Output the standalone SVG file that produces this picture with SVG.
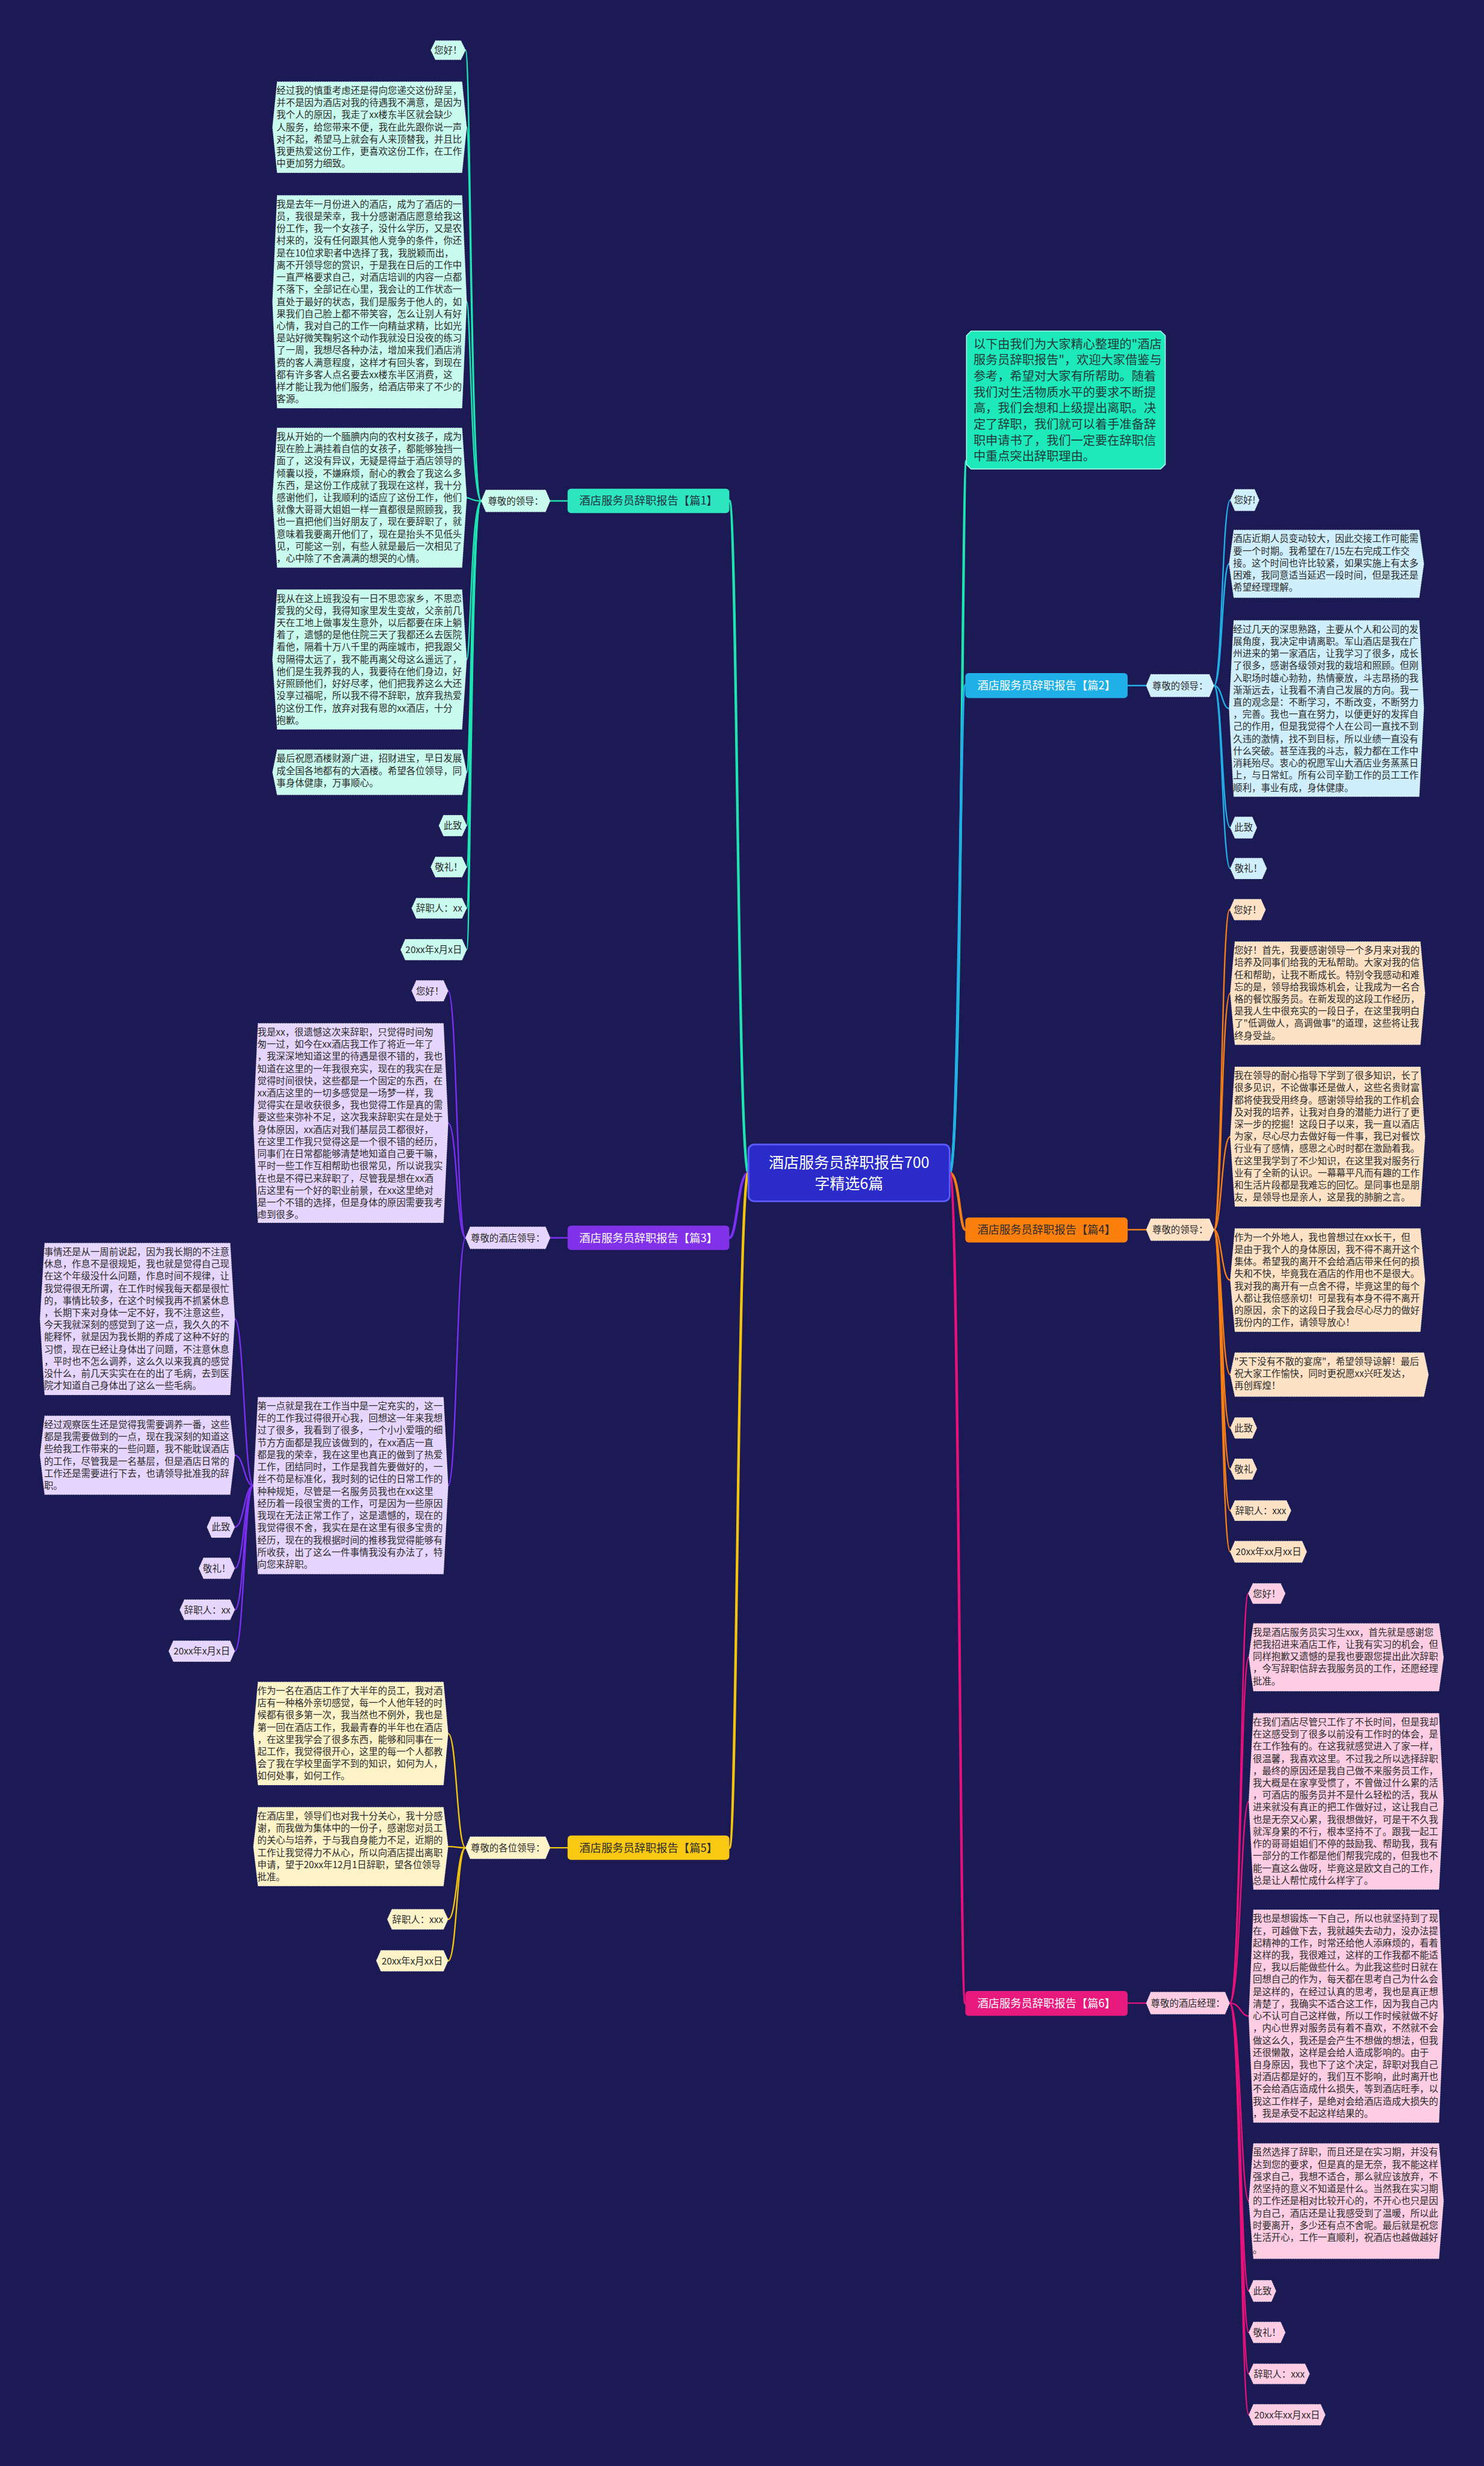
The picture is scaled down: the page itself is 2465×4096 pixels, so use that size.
<svg xmlns="http://www.w3.org/2000/svg" width="2465" height="4096" viewBox="0 0 2465 4096">
<style>
text{font-family:"Noto Sans CJK SC","Noto Sans",sans-serif;}
.bt{font-size:16px;fill:#2b2b2b;}
.sn{font-size:16px;fill:#2b2b2b;text-anchor:middle;}
.br{font-size:19px;text-anchor:middle;}
.bd{stroke:#ffffff;stroke-opacity:.55;stroke-width:1;stroke-dasharray:2 2;}
.c1{fill:#c8fbee}.c3{fill:#e6d5fc}.c5{fill:#fdf3c9}.c2{fill:#cfeffc}.c4{fill:#fde2c6}.c6{fill:#fccde3}
.l{fill:none;stroke-linecap:round}
.l1{stroke:#20e3b2}.l3{stroke:#7b2ff2}.l5{stroke:#f2c40f}.l2{stroke:#22aee6}.l4{stroke:#f57f17}.l6{stroke:#e6127a}
.m{stroke-width:4.5}.s{stroke-width:2.5}
</style>
<rect x="0" y="0" width="2465" height="4096" fill="#1b1a54"/>
<g transform="scale(0.963)">
<g id="connectors">
<path class="l l1 m" d="M1291,2023 C1272,2023 1272,864 1258,864"/>
<path class="l l3 m" d="M1291,2023 C1272,2023 1272,2135 1258,2135"/>
<path class="l l5 m" d="M1291,2023 C1272,2023 1272,3187 1258,3187"/>
<path class="l l1 m" d="M1638,2023 C1659,2023 1659,795 1667,795"/>
<path class="l l2 m" d="M1638,2023 C1655,2023 1655,1182 1665,1182"/>
<path class="l l4 m" d="M1638,2023 C1655,2023 1655,2121 1665,2121"/>
<path class="l l6 m" d="M1638,2023 C1655,2023 1655,3455 1665,3455"/>
<path class="l l1 s" d="M979,864 L949,864"/>
<path class="l l3 s" d="M979,2135 L949,2135"/>
<path class="l l5 s" d="M979,3187 L949,3187"/>
<path class="l l2 s" d="M1945,1182.5 L1977,1182.5"/>
<path class="l l4 s" d="M1945,2121 L1977,2121"/>
<path class="l l6 s" d="M1945,3455 L1977,3455"/>
<g class="l l1 s">
<path d="M830,864 C812,864 812,86.5 803,86.5"/>
<path d="M830,864 C812,864 812,219.5 805,219.5"/>
<path d="M830,864 C812,864 812,520.5 805,520.5"/>
<path d="M830,864 C812,864 812,858.5 805,858.5"/>
<path d="M830,864 C812,864 812,1137.5 805,1137.5"/>
<path d="M830,864 C812,864 812,1332 805,1332"/>
<path d="M830,864 C812,864 812,1424 805,1424"/>
<path d="M830,864 C812,864 812,1495.5 805,1495.5"/>
<path d="M830,864 C812,864 812,1566.5 805,1566.5"/>
<path d="M830,864 C812,864 812,1638 805,1638"/>
</g>
<g class="l l3 s">
<path d="M803,2135 C788,2135 788,1709 773,1709"/>
<path d="M803,2135 C788,2135 788,1937 773,1937"/>
<path d="M803,2135 C788,2135 788,2562.5 773,2562.5"/>
<path d="M437,2562.5 C421,2562.5 421,2275 405,2275"/>
<path d="M437,2562.5 C421,2562.5 421,2510 405,2510"/>
<path d="M437,2562.5 C421,2562.5 421,2634 405,2634"/>
<path d="M437,2562.5 C421,2562.5 421,2705 405,2705"/>
<path d="M437,2562.5 C421,2562.5 421,2776.5 405,2776.5"/>
<path d="M437,2562.5 C421,2562.5 421,2848 405,2848"/>
</g>
<g class="l l5 s">
<path d="M803,3187 C788,3187 788,2990 773,2990"/>
<path d="M803,3187 C788,3187 788,3185 773,3185"/>
<path d="M803,3187 C788,3187 788,3310.5 773,3310.5"/>
<path d="M803,3187 C788,3187 788,3382 773,3382"/>
</g>
<g class="l l2 s">
<path d="M2094,1182.5 C2108,1182.5 2108,862.5 2122,862.5"/>
<path d="M2094,1182.5 C2108,1182.5 2108,972.5 2120,972.5"/>
<path d="M2094,1182.5 C2108,1182.5 2108,1222 2120,1222"/>
<path d="M2094,1182.5 C2108,1182.5 2108,1427.5 2122,1427.5"/>
<path d="M2094,1182.5 C2108,1182.5 2108,1498 2122,1498"/>
</g>
<g class="l l4 s">
<path d="M2094,2121 C2107,2121 2107,1569 2121,1569"/>
<path d="M2094,2121 C2107,2121 2107,1713 2122,1713"/>
<path d="M2094,2121 C2107,2121 2107,1960.5 2122,1960.5"/>
<path d="M2094,2121 C2107,2121 2107,2208 2122,2208"/>
<path d="M2094,2121 C2107,2121 2107,2371 2122,2371"/>
<path d="M2094,2121 C2107,2121 2107,2463 2122,2463"/>
<path d="M2094,2121 C2107,2121 2107,2534 2122,2534"/>
<path d="M2094,2121 C2107,2121 2107,2605.5 2122,2605.5"/>
<path d="M2094,2121 C2107,2121 2107,2676.5 2122,2676.5"/>
</g>
<g class="l l6 s">
<path d="M2121,3455 C2140,3455 2140,2748.5 2153,2748.5"/>
<path d="M2121,3455 C2140,3455 2140,2858.5 2154,2858.5"/>
<path d="M2121,3455 C2140,3455 2140,3107 2154,3107"/>
<path d="M2121,3455 C2140,3455 2140,3477.5 2154,3477.5"/>
<path d="M2121,3455 C2140,3455 2140,3796.5 2154,3796.5"/>
<path d="M2121,3455 C2140,3455 2140,3951.5 2154,3951.5"/>
<path d="M2121,3455 C2140,3455 2140,4023 2154,4023"/>
<path d="M2121,3455 C2140,3455 2140,4094.5 2154,4094.5"/>
<path d="M2121,3455 C2140,3455 2140,4165 2154,4165"/>
</g>
</g>

<g id="center">
<rect x="1291" y="1974" width="347" height="98" rx="10" fill="#2b2bc9" stroke="#5a5aff" stroke-width="3"/>
<text x="1464.5" y="2015" font-size="26" fill="#ffffff" text-anchor="middle">酒店服务员辞职报告700</text>
<text x="1464.5" y="2051" font-size="26" fill="#ffffff" text-anchor="middle">字精选6篇</text>
</g>

<g id="intro">
<polygon points="1675,571 2002,571 2010,579 2010,801 2002,809 1675,809 1667,801 1667,579" fill="#1ee9bb" stroke="#b8fff0" stroke-width="1.5"/>
<text font-size="21" fill="#1f3b3a">
<tspan x="1679" y="601">以下由我们为大家精心整理的"酒店</tspan>
<tspan x="1679" dy="27.7">服务员辞职报告"，欢迎大家借鉴与</tspan>
<tspan x="1679" dy="27.7">参考，希望对大家有所帮助。随着</tspan>
<tspan x="1679" dy="27.7">我们对生活物质水平的要求不断提</tspan>
<tspan x="1679" dy="27.7">高，我们会想和上级提出离职。决</tspan>
<tspan x="1679" dy="27.7">定了辞职，我们就可以着手准备辞</tspan>
<tspan x="1679" dy="27.7">职申请书了，我们一定要在辞职信</tspan>
<tspan x="1679" dy="27.7">中重点突出辞职理由。</tspan>
</text>
</g>

<!-- Branch 1 -->
<g id="b1">
<rect x="979" y="843" width="279" height="42" rx="6" fill="#2de6bf"/>
<text class="br" x="1118.5" y="870.5" fill="#1d2f40">酒店服务员辞职报告【篇1】</text>
</g>
<g id="b1-label">
<polygon class="c1 bd" points="838,845 941,845 949,864 941,883 838,883 830,864"/>
<text class="sn" x="889.5" y="870">尊敬的领导：</text>
</g>
<g id="b1-n1"><polygon class="c1 bd" points="751,70 795,70 803,86.5 795,103 751,103 743,86.5"/><text class="sn" x="773" y="92.5">您好！</text></g>
<g id="b1-n2"><polygon class="c1 bd" points="478,141 797,141 805,219.5 797,298 478,298 470,219.5"/>
<text class="bt" y="162">
<tspan x="477">经过我的慎重考虑还是得向您递交这份辞呈，</tspan>
<tspan x="477" dy="21">并不是因为酒店对我的待遇我不满意，是因为</tspan>
<tspan x="477" dy="21">我个人的原因，我走了xx楼东半区就会缺少</tspan>
<tspan x="477" dy="21">人服务，给您带来不便，我在此先跟你说一声</tspan>
<tspan x="477" dy="21">对不起，希望马上就会有人来顶替我，并且比</tspan>
<tspan x="477" dy="21">我更热爱这份工作，更喜欢这份工作，在工作</tspan>
<tspan x="477" dy="21">中更加努力细致。</tspan>
</text></g>
<g id="b1-n3"><polygon class="c1 bd" points="478,337 797,337 805,520.5 797,704 478,704 470,520.5"/>
<text class="bt" y="358">
<tspan x="477">我是去年一月份进入的酒店，成为了酒店的一</tspan>
<tspan x="477" dy="21">员，我很是荣幸，我十分感谢酒店愿意给我这</tspan>
<tspan x="477" dy="21">份工作，我一个女孩子，没什么学历，又是农</tspan>
<tspan x="477" dy="21">村来的，没有任何跟其他人竞争的条件，你还</tspan>
<tspan x="477" dy="21">是在10位求职者中选择了我，我脱颖而出，</tspan>
<tspan x="477" dy="21">离不开领导您的赏识，于是我在日后的工作中</tspan>
<tspan x="477" dy="21">一直严格要求自己，对酒店培训的内容一点都</tspan>
<tspan x="477" dy="21">不落下，全部记在心里，我会让的工作状态一</tspan>
<tspan x="477" dy="21">直处于最好的状态，我们是服务于他人的，如</tspan>
<tspan x="477" dy="21">果我们自己脸上都不带笑容，怎么让别人有好</tspan>
<tspan x="477" dy="21">心情，我对自己的工作一向精益求精，比如光</tspan>
<tspan x="477" dy="21">是站好微笑鞠躬这个动作我就没日没夜的练习</tspan>
<tspan x="477" dy="21">了一周，我想尽各种办法，增加来我们酒店消</tspan>
<tspan x="477" dy="21">费的客人满意程度，这样才有回头客，到现在</tspan>
<tspan x="477" dy="21">都有许多客人点名要去xx楼东半区消费，这</tspan>
<tspan x="477" dy="21">样才能让我为他们服务，给酒店带来了不少的</tspan>
<tspan x="477" dy="21">客源。</tspan>
</text></g>
<g id="b1-n4"><polygon class="c1 bd" points="478,738 797,738 805,858.5 797,979 478,979 470,858.5"/>
<text class="bt" y="759">
<tspan x="477">我从开始的一个腼腆内向的农村女孩子，成为</tspan>
<tspan x="477" dy="21">现在脸上满挂着自信的女孩子，都能够独挡一</tspan>
<tspan x="477" dy="21">面了，这没有异议，无疑是得益于酒店领导的</tspan>
<tspan x="477" dy="21">倾囊以授，不嫌麻烦，耐心的教会了我这么多</tspan>
<tspan x="477" dy="21">东西，是这份工作成就了我现在这样，我十分</tspan>
<tspan x="477" dy="21">感谢他们，让我顺利的适应了这份工作，他们</tspan>
<tspan x="477" dy="21">就像大哥哥大姐姐一样一直都很是照顾我，我</tspan>
<tspan x="477" dy="21">也一直把他们当好朋友了，现在要辞职了，就</tspan>
<tspan x="477" dy="21">意味着我要离开他们了，现在是抬头不见低头</tspan>
<tspan x="477" dy="21">见，可能这一别，有些人就是最后一次相见了</tspan>
<tspan x="477" dy="21">，心中除了不舍满满的想哭的心情。</tspan>
</text></g>
<g id="b1-n5"><polygon class="c1 bd" points="478,1017 797,1017 805,1137.5 797,1258 478,1258 470,1137.5"/>
<text class="bt" y="1038">
<tspan x="477">我从在这上班我没有一日不思恋家乡，不思恋</tspan>
<tspan x="477" dy="21">爱我的父母，我得知家里发生变故，父亲前几</tspan>
<tspan x="477" dy="21">天在工地上做事发生意外，以后都要在床上躺</tspan>
<tspan x="477" dy="21">着了，遗憾的是他住院三天了我都还么去医院</tspan>
<tspan x="477" dy="21">看他，隔着十万八千里的两座城市，把我跟父</tspan>
<tspan x="477" dy="21">母隔得太远了，我不能再离父母这么遥远了，</tspan>
<tspan x="477" dy="21">他们是生我养我的人，我要待在他们身边，好</tspan>
<tspan x="477" dy="21">好照顾他们，好好尽孝，他们把我养这么大还</tspan>
<tspan x="477" dy="21">没享过福呢，所以我不得不辞职，放弃我热爱</tspan>
<tspan x="477" dy="21">的这份工作，放弃对我有恩的xx酒店，十分</tspan>
<tspan x="477" dy="21">抱歉。</tspan>
</text></g>
<g id="b1-n6"><polygon class="c1 bd" points="478,1293 797,1293 805,1332 797,1371 478,1371 470,1332"/>
<text class="bt" y="1314">
<tspan x="477">最后祝愿酒楼财源广进，招财进宝，早日发展</tspan>
<tspan x="477" dy="21">成全国各地都有的大酒楼。希望各位领导，同</tspan>
<tspan x="477" dy="21">事身体健康，万事顺心。</tspan>
</text></g>
<g id="b1-n7"><polygon class="c1 bd" points="765,1406 797,1406 805,1424 797,1442 765,1442 757,1424"/><text class="sn" x="781" y="1430">此致</text></g>
<g id="b1-n8"><polygon class="c1 bd" points="751,1478 797,1478 805,1495.5 797,1513 751,1513 743,1495.5"/><text class="sn" x="774" y="1501.5">敬礼！</text></g>
<g id="b1-n9"><polygon class="c1 bd" points="718,1549 797,1549 805,1566.5 797,1584 718,1584 710,1566.5"/><text class="sn" x="757.5" y="1572.5">辞职人：xx</text></g>
<g id="b1-n10"><polygon class="c1 bd" points="699,1620 797,1620 805,1638 797,1656 699,1656 691,1638"/><text class="sn" x="748" y="1644">20xx年x月x日</text></g>

<!-- Branch 3 -->
<g id="b3">
<rect x="979" y="2114" width="279" height="42" rx="6" fill="#8132e8"/>
<text class="br" x="1118.5" y="2142" fill="#ffffff">酒店服务员辞职报告【篇3】</text>
</g>
<g id="b3-label"><polygon class="c3 bd" points="811,2116 941,2116 949,2135 941,2154 811,2154 803,2135"/><text class="sn" x="876" y="2141">尊敬的酒店领导：</text></g>
<g id="b3-n1"><polygon class="c3 bd" points="718,1691 765,1691 773,1709 765,1727 718,1727 710,1709"/><text class="sn" x="741.5" y="1715">您好！</text></g>
<g id="b3-n2"><polygon class="c3 bd" points="445,1765 765,1765 773,1937 765,2109 445,2109 437,1937"/>
<text class="bt" y="1786">
<tspan x="444">我是xx，很遗憾这次来辞职，只觉得时间匆</tspan>
<tspan x="444" dy="21">匆一过，如今在xx酒店我工作了将近一年了</tspan>
<tspan x="444" dy="21">，我深深地知道这里的待遇是很不错的，我也</tspan>
<tspan x="444" dy="21">知道在这里的一年我很充实，现在的我实在是</tspan>
<tspan x="444" dy="21">觉得时间很快，这些都是一个固定的东西，在</tspan>
<tspan x="444" dy="21">xx酒店这里的一切多感觉是一场梦一样，我</tspan>
<tspan x="444" dy="21">觉得实在是收获很多，我也觉得工作是真的需</tspan>
<tspan x="444" dy="21">要这些来弥补不足，这次我来辞职实在是处于</tspan>
<tspan x="444" dy="21">身体原因，xx酒店对我们基层员工都很好，</tspan>
<tspan x="444" dy="21">在这里工作我只觉得这是一个很不错的经历，</tspan>
<tspan x="444" dy="21">同事们在日常都能够清楚地知道自己要干嘛，</tspan>
<tspan x="444" dy="21">平时一些工作互相帮助也很常见，所以说我实</tspan>
<tspan x="444" dy="21">在也是不得已来辞职了，尽管我是想在xx酒</tspan>
<tspan x="444" dy="21">店这里有一个好的职业前景，在xx这里绝对</tspan>
<tspan x="444" dy="21">是一个不错的选择，但是身体的原因需要我考</tspan>
<tspan x="444" dy="21">虑到很多。</tspan>
</text></g>
<g id="b3-n3"><polygon class="c3 bd" points="445,2410 765,2410 773,2562.5 765,2715 445,2715 437,2562.5"/>
<text class="bt" y="2431">
<tspan x="444">第一点就是我在工作当中是一定充实的，这一</tspan>
<tspan x="444" dy="21">年的工作我过得很开心我，回想这一年来我想</tspan>
<tspan x="444" dy="21">过了很多，我看到了很多，一个小小爱哦的细</tspan>
<tspan x="444" dy="21">节方方面都是我应该做到的，在xx酒店一直</tspan>
<tspan x="444" dy="21">都是我的荣幸，我在这里也真正的做到了热爱</tspan>
<tspan x="444" dy="21">工作，团结同时，工作是我首先要做好的，一</tspan>
<tspan x="444" dy="21">丝不苟是标准化，我时刻的记住的日常工作的</tspan>
<tspan x="444" dy="21">种种规矩，尽管是一名服务员我也在xx这里</tspan>
<tspan x="444" dy="21">经历着一段很宝贵的工作，可是因为一些原因</tspan>
<tspan x="444" dy="21">我现在无法正常工作了，这是遗憾的，现在的</tspan>
<tspan x="444" dy="21">我觉得很不舍，我实在是在这里有很多宝贵的</tspan>
<tspan x="444" dy="21">经历，现在的我根据时间的推移我觉得能够有</tspan>
<tspan x="444" dy="21">所收获，出了这么一件事情我没有办法了，特</tspan>
<tspan x="444" dy="21">向您来辞职。</tspan>
</text></g>
<g id="b3-n4"><polygon class="c3 bd" points="77,2144 397,2144 405,2275 397,2406 77,2406 69,2275"/>
<text class="bt" y="2165">
<tspan x="76">事情还是从一周前说起，因为我长期的不注意</tspan>
<tspan x="76" dy="21">休息，作息不是很规矩，我也就是觉得自己现</tspan>
<tspan x="76" dy="21">在这个年级没什么问题，作息时间不规律，让</tspan>
<tspan x="76" dy="21">我觉得很无所谓，在工作时候我每天都是很忙</tspan>
<tspan x="76" dy="21">的，事情比较多，在这个时候我再不抓紧休息</tspan>
<tspan x="76" dy="21">，长期下来对身体一定不好，我不注意这些，</tspan>
<tspan x="76" dy="21">今天我就深刻的感觉到了这一点，我久久的不</tspan>
<tspan x="76" dy="21">能释怀，就是因为我长期的养成了这种不好的</tspan>
<tspan x="76" dy="21">习惯，现在已经让身体出了问题，不注意休息</tspan>
<tspan x="76" dy="21">，平时也不怎么调养，这么久以来我真的感觉</tspan>
<tspan x="76" dy="21">没什么，前几天实实在在的出了毛病，去到医</tspan>
<tspan x="76" dy="21">院才知道自己身体出了这么一些毛病。</tspan>
</text></g>
<g id="b3-n5"><polygon class="c3 bd" points="77,2442 397,2442 405,2510 397,2578 77,2578 69,2510"/>
<text class="bt" y="2463">
<tspan x="76">经过观察医生还是觉得我需要调养一番，这些</tspan>
<tspan x="76" dy="21">都是我需要做到的一点，现在我深刻的知道这</tspan>
<tspan x="76" dy="21">些给我工作带来的一些问题，我不能耽误酒店</tspan>
<tspan x="76" dy="21">的工作，尽管我是一名基层，但是酒店日常的</tspan>
<tspan x="76" dy="21">工作还是需要进行下去，也请领导批准我的辞</tspan>
<tspan x="76" dy="21">职。</tspan>
</text></g>
<g id="b3-n6"><polygon class="c3 bd" points="365,2616 397,2616 405,2634 397,2652 365,2652 357,2634"/><text class="sn" x="381" y="2640">此致</text></g>
<g id="b3-n7"><polygon class="c3 bd" points="351,2687 397,2687 405,2705 397,2723 351,2723 343,2705"/><text class="sn" x="374" y="2711">敬礼！</text></g>
<g id="b3-n8"><polygon class="c3 bd" points="318,2759 397,2759 405,2776.5 397,2794 318,2794 310,2776.5"/><text class="sn" x="357.5" y="2782.5">辞职人：xx</text></g>
<g id="b3-n9"><polygon class="c3 bd" points="299,2830 397,2830 405,2848 397,2866 299,2866 291,2848"/><text class="sn" x="348" y="2854">20xx年x月x日</text></g>

<!-- Branch 5 -->
<g id="b5">
<rect x="979" y="3166" width="279" height="42" rx="6" fill="#f9c812"/>
<text class="br" x="1118.5" y="3194" fill="#2b2b2b">酒店服务员辞职报告【篇5】</text>
</g>
<g id="b5-label"><polygon class="c5 bd" points="811,3168 941,3168 949,3187 941,3206 811,3206 803,3187"/><text class="sn" x="876" y="3193">尊敬的各位领导：</text></g>
<g id="b5-n1"><polygon class="c5 bd" points="445,2901 765,2901 773,2990 765,3079 445,3079 437,2990"/>
<text class="bt" y="2922">
<tspan x="444">作为一名在酒店工作了大半年的员工，我对酒</tspan>
<tspan x="444" dy="21">店有一种格外亲切感觉，每一个人他年轻的时</tspan>
<tspan x="444" dy="21">候都有很多第一次，我当然也不例外，我也是</tspan>
<tspan x="444" dy="21">第一回在酒店工作，我最青春的半年也在酒店</tspan>
<tspan x="444" dy="21">，在这里我学会了很多东西，能够和同事在一</tspan>
<tspan x="444" dy="21">起工作，我觉得很开心，这里的每一个人都教</tspan>
<tspan x="444" dy="21">会了我在学校里面学不到的知识，如何为人，</tspan>
<tspan x="444" dy="21">如何处事，如何工作。</tspan>
</text></g>
<g id="b5-n2"><polygon class="c5 bd" points="445,3117 765,3117 773,3185 765,3253 445,3253 437,3185"/>
<text class="bt" y="3138">
<tspan x="444">在酒店里，领导们也对我十分关心，我十分感</tspan>
<tspan x="444" dy="21">谢，而我做为集体中的一份子，感谢您对员工</tspan>
<tspan x="444" dy="21">的关心与培养，于与我自身能力不足，近期的</tspan>
<tspan x="444" dy="21">工作让我觉得力不从心，所以向酒店提出离职</tspan>
<tspan x="444" dy="21">申请，望于20xx年12月1日辞职，望各位领导</tspan>
<tspan x="444" dy="21">批准。</tspan>
</text></g>
<g id="b5-n3"><polygon class="c5 bd" points="676,3293 765,3293 773,3310.5 765,3328 676,3328 668,3310.5"/><text class="sn" x="720.5" y="3316.5">辞职人：xxx</text></g>
<g id="b5-n4"><polygon class="c5 bd" points="657,3364 765,3364 773,3382 765,3400 657,3400 649,3382"/><text class="sn" x="711" y="3388">20xx年x月xx日</text></g>

<!-- Branch 2 -->
<g id="b2">
<rect x="1665" y="1161" width="280" height="43" rx="6" fill="#1fb0e8"/>
<text class="br" x="1805" y="1189" fill="#ffffff">酒店服务员辞职报告【篇2】</text>
</g>
<g id="b2-label"><polygon class="c2 bd" points="1985,1163 2086,1163 2094,1182.5 2086,1202 1985,1202 1977,1182.5"/><text class="sn" x="2035.5" y="1188.5">尊敬的领导：</text></g>
<g id="b2-n1"><polygon class="c2 bd" points="2130,844 2164,844 2172,862.5 2164,881 2130,881 2122,862.5"/><text class="sn" x="2147" y="868.5">您好!</text></g>
<g id="b2-n2"><polygon class="c2 bd" points="2128,914 2448,914 2456,972.5 2448,1031 2128,1031 2120,972.5"/>
<text class="bt" y="935">
<tspan x="2127">酒店近期人员变动较大，因此交接工作可能需</tspan>
<tspan x="2127" dy="21">要一个时期。我希望在7/15左右完成工作交</tspan>
<tspan x="2127" dy="21">接。这个时间也许比较紧，如果实施上有太多</tspan>
<tspan x="2127" dy="21">困难，我同意适当延迟一段时间，但是我还是</tspan>
<tspan x="2127" dy="21">希望经理理解。</tspan>
</text></g>
<g id="b2-n3"><polygon class="c2 bd" points="2128,1070 2448,1070 2456,1222 2448,1374 2128,1374 2120,1222"/>
<text class="bt" y="1091">
<tspan x="2127">经过几天的深思熟路，主要从个人和公司的发</tspan>
<tspan x="2127" dy="21">展角度，我决定申请离职。军山酒店是我在广</tspan>
<tspan x="2127" dy="21">州进来的第一家酒店，让我学习了很多，成长</tspan>
<tspan x="2127" dy="21">了很多，感谢各级领对我的栽培和照顾。但刚</tspan>
<tspan x="2127" dy="21">入职场时雄心勃勃，热情豪放，斗志昂扬的我</tspan>
<tspan x="2127" dy="21">渐渐远去，让我看不清自己发展的方向。我一</tspan>
<tspan x="2127" dy="21">直的观念是：不断学习，不断改变，不断努力</tspan>
<tspan x="2127" dy="21">，完善。我也一直在努力，以便更好的发挥自</tspan>
<tspan x="2127" dy="21">己的作用，但是我觉得个人在公司一直找不到</tspan>
<tspan x="2127" dy="21">久违的激情，找不到目标，所以业绩一直没有</tspan>
<tspan x="2127" dy="21">什么突破。甚至连我的斗志，毅力都在工作中</tspan>
<tspan x="2127" dy="21">消耗殆尽。衷心的祝愿军山大酒店业务蒸蒸日</tspan>
<tspan x="2127" dy="21">上，与日常虹。所有公司辛勤工作的员工工作</tspan>
<tspan x="2127" dy="21">顺利，事业有成，身体健康。</tspan>
</text></g>
<g id="b2-n4"><polygon class="c2 bd" points="2130,1409 2160,1409 2168,1427.5 2160,1446 2130,1446 2122,1427.5"/><text class="sn" x="2145" y="1433.5">此致</text></g>
<g id="b2-n5"><polygon class="c2 bd" points="2130,1480 2177,1480 2185,1498 2177,1516 2130,1516 2122,1498"/><text class="sn" x="2153.5" y="1504">敬礼！</text></g>

<!-- Branch 4 -->
<g id="b4">
<rect x="1665" y="2100" width="280" height="43" rx="6" fill="#fb7f0c"/>
<text class="br" x="1805" y="2128" fill="#2b2b2b">酒店服务员辞职报告【篇4】</text>
</g>
<g id="b4-label"><polygon class="c4 bd" points="1985,2102 2086,2102 2094,2121 2086,2140 1985,2140 1977,2121"/><text class="sn" x="2035.5" y="2127">尊敬的领导：</text></g>
<g id="b4-n1"><polygon class="c4 bd" points="2129,1551 2175,1551 2183,1569 2175,1587 2129,1587 2121,1569"/><text class="sn" x="2152" y="1575">您好！</text></g>
<g id="b4-n2"><polygon class="c4 bd" points="2130,1624 2450,1624 2458,1713 2450,1802 2130,1802 2122,1713"/>
<text class="bt" y="1645">
<tspan x="2129">您好！首先，我要感谢领导一个多月来对我的</tspan>
<tspan x="2129" dy="21">培养及同事们给我的无私帮助。大家对我的信</tspan>
<tspan x="2129" dy="21">任和帮助，让我不断成长。特别令我感动和难</tspan>
<tspan x="2129" dy="21">忘的是，领导给我锻炼机会，让我成为一名合</tspan>
<tspan x="2129" dy="21">格的餐饮服务员。在新发现的这段工作经历，</tspan>
<tspan x="2129" dy="21">是我人生中很充实的一段日子，在这里我明白</tspan>
<tspan x="2129" dy="21">了"低调做人，高调做事"的道理，这些将让我</tspan>
<tspan x="2129" dy="21">终身受益。</tspan>
</text></g>
<g id="b4-n3"><polygon class="c4 bd" points="2130,1840 2450,1840 2458,1960.5 2450,2081 2130,2081 2122,1960.5"/>
<text class="bt" y="1861">
<tspan x="2129">我在领导的耐心指导下学到了很多知识，长了</tspan>
<tspan x="2129" dy="21">很多见识，不论做事还是做人，这些名贵财富</tspan>
<tspan x="2129" dy="21">都将使我受用终身。感谢领导给我的工作机会</tspan>
<tspan x="2129" dy="21">及对我的培养，让我对自身的潜能力进行了更</tspan>
<tspan x="2129" dy="21">深一步的挖掘！这段日子以来，我一直以酒店</tspan>
<tspan x="2129" dy="21">为家，尽心尽力去做好每一件事，我已对餐饮</tspan>
<tspan x="2129" dy="21">行业有了感情，感恩之心时时都在激励着我。</tspan>
<tspan x="2129" dy="21">在这里我学到了不少知识，在这里我对服务行</tspan>
<tspan x="2129" dy="21">业有了全新的认识。一幕幕平凡而有趣的工作</tspan>
<tspan x="2129" dy="21">和生活片段都是我难忘的回忆。是同事也是朋</tspan>
<tspan x="2129" dy="21">友，是领导也是亲人，这是我的肺腑之言。</tspan>
</text></g>
<g id="b4-n4"><polygon class="c4 bd" points="2130,2119 2450,2119 2458,2208 2450,2297 2130,2297 2122,2208"/>
<text class="bt" y="2140">
<tspan x="2129">作为一个外地人，我也曾想过在xx长干，但</tspan>
<tspan x="2129" dy="21">是由于我个人的身体原因，我不得不离开这个</tspan>
<tspan x="2129" dy="21">集体。希望我的离开不会给酒店带来任何的损</tspan>
<tspan x="2129" dy="21">失和不快，毕竟我在酒店的作用也不是很大。</tspan>
<tspan x="2129" dy="21">我对我的离开有一点舍不得，毕竟这里的每个</tspan>
<tspan x="2129" dy="21">人都让我倍感亲切！可是我有本身不得不离开</tspan>
<tspan x="2129" dy="21">的原因，余下的这段日子我会尽心尽力的做好</tspan>
<tspan x="2129" dy="21">我份内的工作，请领导放心！</tspan>
</text></g>
<g id="b4-n5"><polygon class="c4 bd" points="2130,2333 2456,2333 2464,2371 2456,2409 2130,2409 2122,2371"/>
<text class="bt" y="2354">
<tspan x="2129">"天下没有不散的宴席"，希望领导谅解！最后</tspan>
<tspan x="2129" dy="21">祝大家工作愉快，同时更祝愿xx兴旺发达，</tspan>
<tspan x="2129" dy="21">再创辉煌！</tspan>
</text></g>
<g id="b4-n6"><polygon class="c4 bd" points="2130,2445 2160,2445 2168,2463 2160,2481 2130,2481 2122,2463"/><text class="sn" x="2145" y="2469">此致</text></g>
<g id="b4-n7"><polygon class="c4 bd" points="2130,2516 2160,2516 2168,2534 2160,2552 2130,2552 2122,2534"/><text class="sn" x="2145" y="2540">敬礼</text></g>
<g id="b4-n8"><polygon class="c4 bd" points="2130,2588 2219,2588 2227,2605.5 2219,2623 2130,2623 2122,2605.5"/><text class="sn" x="2174.5" y="2611.5">辞职人：xxx</text></g>
<g id="b4-n9"><polygon class="c4 bd" points="2130,2658 2246,2658 2254,2676.5 2246,2695 2130,2695 2122,2676.5"/><text class="sn" x="2188" y="2682.5">20xx年xx月xx日</text></g>

<!-- Branch 6 -->
<g id="b6">
<rect x="1665" y="3434" width="280" height="43" rx="6" fill="#e8197d"/>
<text class="br" x="1805" y="3462" fill="#ffffff">酒店服务员辞职报告【篇6】</text>
</g>
<g id="b6-label"><polygon class="c6 bd" points="1985,3436 2113,3436 2121,3455 2113,3474 1985,3474 1977,3455"/><text class="sn" x="2049" y="3461">尊敬的酒店经理：</text></g>
<g id="b6-n1"><polygon class="c6 bd" points="2161,2731 2209,2731 2217,2748.5 2209,2766 2161,2766 2153,2748.5"/><text class="sn" x="2185" y="2754.5">您好！</text></g>
<g id="b6-n2"><polygon class="c6 bd" points="2162,2800 2482,2800 2490,2858.5 2482,2917 2162,2917 2154,2858.5"/>
<text class="bt" y="2821">
<tspan x="2161">我是酒店服务员实习生xxx，首先就是感谢您</tspan>
<tspan x="2161" dy="21">把我招进来酒店工作，让我有实习的机会，但</tspan>
<tspan x="2161" dy="21">同样抱歉又遗憾的是我也要跟您提出此次辞职</tspan>
<tspan x="2161" dy="21">，今写辞职信辞去我服务员的工作，还愿经理</tspan>
<tspan x="2161" dy="21">批准。</tspan>
</text></g>
<g id="b6-n3"><polygon class="c6 bd" points="2162,2955 2482,2955 2490,3107 2482,3259 2162,3259 2154,3107"/>
<text class="bt" y="2976">
<tspan x="2161">在我们酒店尽管只工作了不长时间，但是我却</tspan>
<tspan x="2161" dy="21">在这感受到了很多以前没有工作时的体会，是</tspan>
<tspan x="2161" dy="21">在工作独有的。在这我就感觉进入了家一样，</tspan>
<tspan x="2161" dy="21">很温馨，我喜欢这里。不过我之所以选择辞职</tspan>
<tspan x="2161" dy="21">，最终的原因还是我自己做不来服务员工作，</tspan>
<tspan x="2161" dy="21">我大概是在家享受惯了，不曾做过什么累的活</tspan>
<tspan x="2161" dy="21">，可酒店的服务员并不是什么轻松的活，我从</tspan>
<tspan x="2161" dy="21">进来就没有真正的把工作做好过，这让我自己</tspan>
<tspan x="2161" dy="21">也是无奈又心累，我很想做好，可是干不久我</tspan>
<tspan x="2161" dy="21">就浑身累的不行，根本坚持不了。跟我一起工</tspan>
<tspan x="2161" dy="21">作的哥哥姐姐们不停的鼓励我、帮助我，我有</tspan>
<tspan x="2161" dy="21">一部分的工作都是他们帮我完成的，但我也不</tspan>
<tspan x="2161" dy="21">能一直这么做呀，毕竟这是欧文自己的工作，</tspan>
<tspan x="2161" dy="21">总是让人帮忙成什么样字了。</tspan>
</text></g>
<g id="b6-n4"><polygon class="c6 bd" points="2162,3294 2482,3294 2490,3477.5 2482,3661 2162,3661 2154,3477.5"/>
<text class="bt" y="3315">
<tspan x="2161">我也是想锻炼一下自己，所以也就坚持到了现</tspan>
<tspan x="2161" dy="21">在，可越做下去，我就越失去动力，没办法提</tspan>
<tspan x="2161" dy="21">起精神的工作，时常还给他人添麻烦的，看着</tspan>
<tspan x="2161" dy="21">这样的我，我很难过，这样的工作我都不能适</tspan>
<tspan x="2161" dy="21">应，我以后能做些什么。为此我这些时日就在</tspan>
<tspan x="2161" dy="21">回想自己的作为，每天都在思考自己为什么会</tspan>
<tspan x="2161" dy="21">是这样的，在经过认真的思考，我也是真正想</tspan>
<tspan x="2161" dy="21">清楚了，我确实不适合这工作，因为我自己内</tspan>
<tspan x="2161" dy="21">心不认可自己这样做，所以工作时候就做不好</tspan>
<tspan x="2161" dy="21">，内心世界对服务员有着不喜欢，不然就不会</tspan>
<tspan x="2161" dy="21">做这么久，我还是会产生不想做的想法，但我</tspan>
<tspan x="2161" dy="21">还很懒散，这样是会给人造成影响的。由于</tspan>
<tspan x="2161" dy="21">自身原因，我也下了这个决定，辞职对我自己</tspan>
<tspan x="2161" dy="21">对酒店都是好的，我们互不影响，此时离开也</tspan>
<tspan x="2161" dy="21">不会给酒店造成什么损失，等到酒店旺季，以</tspan>
<tspan x="2161" dy="21">我这工作样子，是绝对会给酒店造成大损失的</tspan>
<tspan x="2161" dy="21">，我是承受不起这样结果的。</tspan>
</text></g>
<g id="b6-n5"><polygon class="c6 bd" points="2162,3697 2482,3697 2490,3796.5 2482,3896 2162,3896 2154,3796.5"/>
<text class="bt" y="3718">
<tspan x="2161">虽然选择了辞职，而且还是在实习期，并没有</tspan>
<tspan x="2161" dy="21">达到您的要求，但是真的是无奈，我不能这样</tspan>
<tspan x="2161" dy="21">强求自己，我想不适合，那么就应该放弃，不</tspan>
<tspan x="2161" dy="21">然坚持的意义不知道是什么。当然我在实习期</tspan>
<tspan x="2161" dy="21">的工作还是相对比较开心的，不开心也只是因</tspan>
<tspan x="2161" dy="21">为自己，酒店还是让我感受到了温暖，所以此</tspan>
<tspan x="2161" dy="21">时要离开，多少还有点不舍呢。最后就是祝您</tspan>
<tspan x="2161" dy="21">生活开心，工作一直顺利，祝酒店也越做越好</tspan>
<tspan x="2161" dy="21">。</tspan>
</text></g>
<g id="b6-n6"><polygon class="c6 bd" points="2162,3933 2193,3933 2201,3951.5 2193,3970 2162,3970 2154,3951.5"/><text class="sn" x="2177.5" y="3957.5">此致</text></g>
<g id="b6-n7"><polygon class="c6 bd" points="2162,4005 2209,4005 2217,4023 2209,4041 2162,4041 2154,4023"/><text class="sn" x="2185.5" y="4029">敬礼！</text></g>
<g id="b6-n8"><polygon class="c6 bd" points="2162,4077 2251,4077 2259,4094.5 2251,4112 2162,4112 2154,4094.5"/><text class="sn" x="2206.5" y="4100.5">辞职人：xxx</text></g>
<g id="b6-n9"><polygon class="c6 bd" points="2162,4147 2278,4147 2286,4165 2278,4183 2162,4183 2154,4165"/><text class="sn" x="2220" y="4171">20xx年xx月xx日</text></g>
</g>
</svg>
